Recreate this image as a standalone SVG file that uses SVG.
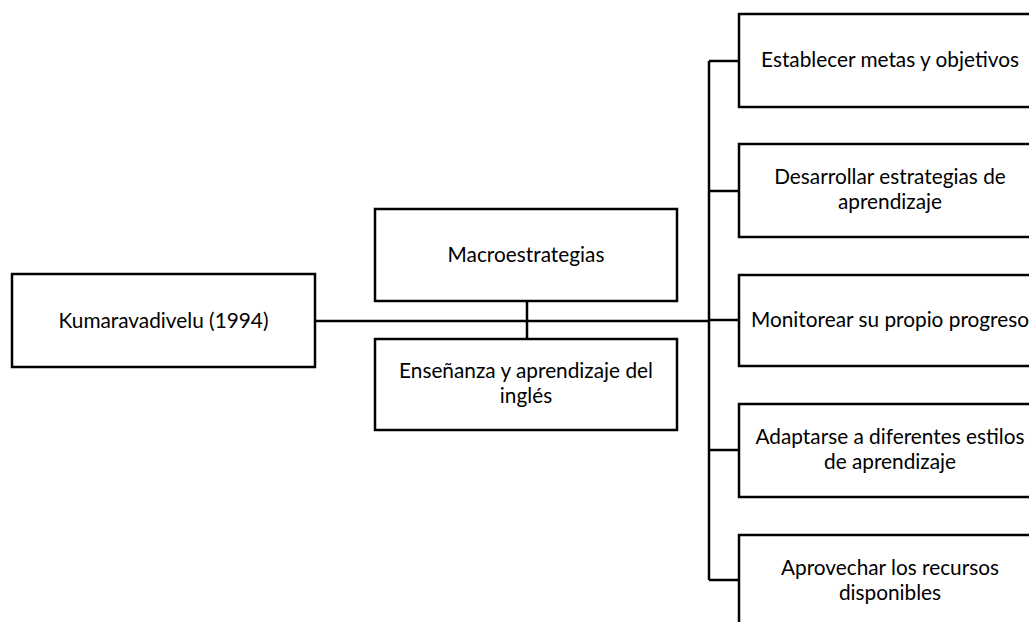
<svg xmlns="http://www.w3.org/2000/svg" width="1029" height="622" viewBox="0 0 1029 622">
<style>
.box{fill:#fff;stroke:#000;stroke-width:2.5}
.ln{fill:none;stroke:#000;stroke-width:2.5}
text{font-family:Lato,"Open Sans",sans-serif;font-size:20.8px;fill:#000;text-anchor:middle}
</style>
<rect width="1029" height="622" fill="#fff"/>
<g id="connectors">
<path class="ln" d="M315,321 H709"/>
<path class="ln" d="M527,301 V339"/>
<path class="ln" d="M709,61 V580"/>
<path class="ln" d="M709,61 H739 M709,191 H739 M709,320 H739 M709,450 H739 M709,580 H739"/>
</g>
<g id="n-kumaravadivelu"><rect class="box" x="12" y="274" width="303" height="93"/><text x="163.5" y="328">Kumaravadivelu (1994)</text></g>
<g id="n-macro"><rect class="box" x="375" y="209" width="302" height="92"/><text x="526" y="262">Macroestrategias</text></g>
<g id="n-ensenanza"><rect class="box" x="375" y="339" width="302" height="91"/><text x="526" y="378">Enseñanza y aprendizaje del</text><text x="526" y="403">inglés</text></g>
<g id="n-metas"><rect class="box" x="739" y="14" width="302" height="93"/><text x="890" y="67">Establecer metas y objetivos</text></g>
<g id="n-estrategias"><rect class="box" x="739" y="144" width="302" height="93"/><text x="890" y="184">Desarrollar estrategias de</text><text x="890" y="209">aprendizaje</text></g>
<g id="n-monitorear"><rect class="box" x="739" y="275" width="302" height="91"/><text x="890" y="327">Monitorear su propio progreso</text></g>
<g id="n-adaptarse"><rect class="box" x="739" y="404" width="302" height="93"/><text x="890" y="444">Adaptarse a diferentes estilos</text><text x="890" y="469">de aprendizaje</text></g>
<g id="n-recursos"><rect class="box" x="739" y="535" width="302" height="93"/><text x="890" y="575">Aprovechar los recursos</text><text x="890" y="600">disponibles</text></g>
</svg>
